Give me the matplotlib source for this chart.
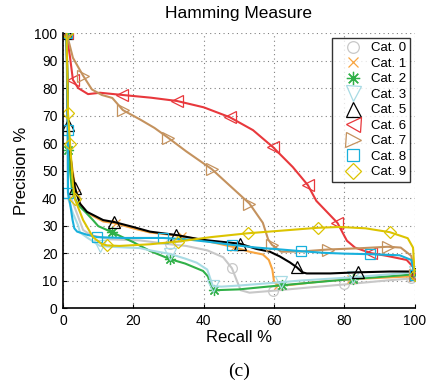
import matplotlib
matplotlib.use("Agg")
import matplotlib.pyplot as plt

plt.rcParams["font.family"] = ["Liberation Sans", "DejaVu Sans"]

# precision / recall curves per category (recall %, precision %)
cat0_recall = [1, 1.2, 1.4, 2.6, 5.7, 8, 13.4, 21.9, 30.4, 35, 41, 45.5, 48, 49.4, 50.5, 53, 59.7, 70, 80, 90, 99, 100]
cat0_precision = [100, 70, 42, 39, 28.4, 26.5, 25, 24.6, 23.2, 22.6, 21, 18.5, 14.5, 10, 6.5, 5.6, 6.3, 7.5, 8.6, 9.8, 10.8, 11]

cat1_recall = [1, 1.5, 3.7, 5, 7, 11.4, 15, 19.9, 24.7, 33.8, 40, 48.5, 53, 56.8, 58.5, 59.5, 60, 61, 64.5, 70, 76, 82, 90, 100]
cat1_precision = [100, 60, 42, 37.5, 34.5, 31.5, 30.8, 29, 27.5, 26.2, 24.6, 22.2, 20.5, 19.5, 17.5, 14, 9.5, 8.3, 8.4, 9.2, 10, 10.5, 11, 11.6]

cat2_recall = [1, 1.4, 2.6, 4.3, 6.3, 8.5, 10, 13.9, 19.9, 24.7, 30.4, 34.7, 39.8, 41.2, 41.8, 42.3, 43, 50, 62.2, 70, 82.4, 90, 100]
cat2_precision = [100, 57.5, 42, 37.5, 35, 32, 29.8, 27.6, 24, 20.8, 17.8, 16.2, 13.5, 11.5, 9, 7.2, 6.5, 6.8, 8.3, 9.2, 10.6, 11.3, 12.3]

cat3_recall = [1, 1.4, 2.8, 4.3, 4.8, 7, 10.5, 15, 21.9, 24.7, 30.4, 34.7, 38, 41, 42, 42.6, 45, 50, 62, 67.3, 82.4, 90, 100]
cat3_precision = [100, 40, 34.5, 30, 27.5, 25.5, 22.6, 22.2, 21.8, 21, 19.7, 18, 16.5, 14, 10.2, 8, 7.8, 8.2, 9.4, 10, 11.2, 12, 13]

cat5_recall = [1, 1.4, 2.5, 3.4, 4.8, 6.8, 11.4, 14.5, 19.9, 24.7, 32, 39.8, 50.3, 55, 58.8, 61.6, 64.5, 66.5, 68, 69.3, 75.9, 83.8, 92.9, 99, 100]
cat5_precision = [100, 66.5, 50, 43.6, 38, 35, 32, 31.3, 29.5, 27.8, 26.6, 24.8, 23.4, 21.5, 20.5, 18.8, 16.6, 14.8, 13, 12.6, 12.6, 13, 13.3, 13.3, 12.5]

cat6_recall = [1, 2, 2.8, 4.3, 7.1, 10.5, 16.8, 25, 32.4, 40, 47.4, 54, 59.7, 65.3, 69.6, 72, 75, 78, 80.7, 83, 87.5, 92, 97.7, 99.5, 100]
cat6_precision = [100, 91, 83, 80, 77.8, 78.3, 77.5, 76.5, 75.3, 73, 69.4, 64.7, 58.5, 51.3, 44.7, 39, 35, 31, 24.5, 22, 20, 19, 17.5, 15, 11.5]

cat7_recall = [1, 2.8, 5.7, 8.2, 11, 14, 17, 22, 26, 29.8, 35, 42.3, 47, 53, 56.8, 58.3, 59.4, 62, 68, 75.3, 85, 92.3, 96, 99, 100]
cat7_precision = [100, 91, 84.5, 79.5, 77.5, 76.4, 72, 68.5, 65.5, 62, 57, 50.5, 45, 38, 31, 25, 23, 20.5, 20.6, 21.3, 21.8, 22.3, 22, 19, 12]

cat8_recall = [1, 1.4, 1.4, 2, 2.7, 3.2, 4, 7, 9.7, 16.8, 28.4, 35, 42, 48, 55, 62, 67.6, 74, 80, 87.2, 95.7, 99, 100]
cat8_precision = [100, 64.7, 42, 38, 32, 29, 27.8, 26.6, 25.8, 25.5, 25.5, 25, 24, 23, 22, 21.3, 20.7, 20.1, 19.8, 19.6, 19.2, 17.5, 12]

cat9_recall = [1, 1.4, 2, 2.8, 3.4, 5.7, 8.5, 11, 12.5, 16, 24.7, 32.7, 42, 52.5, 64.5, 72.4, 78.7, 86, 92.9, 98, 99.5, 100]
cat9_precision = [100, 71, 59.7, 45, 39.5, 32, 25.8, 23.3, 22.8, 22.6, 23.2, 24.2, 25.8, 27.2, 28.4, 29.2, 29.5, 29, 27.6, 25.4, 22, 12]

labels = ["Cat. 0", "Cat. 1", "Cat. 2", "Cat. 3", "Cat. 5", "Cat. 6", "Cat. 7", "Cat. 8", "Cat. 9"]

ASTERISK = (8, 2, 0)

# (recall, precision, colour, marker, marker size, points that carry a marker)
series = [
    (cat0_recall, cat0_precision, "#c8c8c8", "o", 7, [0, 8, 12, 16, 18, 20]),
    (cat1_recall, cat1_precision, "#f8a540", "x", 6, [0, 2, 6, 9, 11, 17, 21, 23]),
    (cat2_recall, cat2_precision, "#30b048", ASTERISK, 8, [0, 1, 7, 10, 16, 18, 20, 22]),
    (cat3_recall, cat3_precision, "#a8dbe4", "v", 9, [0, 6, 10, 15, 18, 20, 22]),
    (cat5_recall, cat5_precision, "#000000", "^", 9, [0, 1, 3, 7, 10, 12, 17, 21, 24]),
    (cat6_recall, cat6_precision, "#e8383c", "<", 9, [0, 2, 6, 8, 10, 12, 14, 17, 20, 24]),
    (cat7_recall, cat7_precision, "#c4925e", ">", 9, [0, 2, 6, 9, 11, 13, 16, 19, 21, 24]),
    (cat8_recall, cat8_precision, "#18b0dc", "s", 7, [0, 1, 2, 8, 10, 13, 16, 19, 22]),
    (cat9_recall, cat9_precision, "#dcc400", "D", 6.5, [0, 1, 2, 4, 8, 11, 13, 15, 18, 21]),
]

fig = plt.figure(figsize=(4.38, 3.89), dpi=100)
ax = fig.add_axes([0.144, 0.208, 0.803, 0.707])

for (rec, prec, color, marker, ms, marks), label in zip(series, labels):
    ax.plot(rec, prec, "-", color=color, lw=1.5)
    ax.plot(rec, prec, ls="none", marker=marker, markevery=marks, ms=ms,
            mfc="none", mec=color, mew=0.9, label=label)

ax.set_xlim(0, 100)
ax.set_ylim(0, 100)
ax.set_xticks(range(0, 101, 20))
ax.set_yticks(range(0, 101, 10))
ax.grid(True, ls=(0, (1, 3)), color="#808080", lw=0.8)
for side in ("top", "right"):
    ax.spines[side].set_visible(False)
ax.spines["left"].set_linewidth(1.2)
ax.spines["bottom"].set_linewidth(1.2)
ax.tick_params(direction="in", length=3, labelsize=10, pad=4)

ax.set_title("Hamming Measure", fontsize=12.5, pad=11)
ax.set_xlabel("Recall %", fontsize=12, labelpad=2)
ax.set_ylabel("Precision %", fontsize=12, labelpad=4)

leg = ax.legend(loc="upper right", bbox_to_anchor=(0.986, 0.982), borderaxespad=0,
                fontsize=9.5, frameon=True, fancybox=False, edgecolor="black",
                handlelength=2.5, handletextpad=0.1, labelspacing=0.25,
                borderpad=0.3, markerscale=1.2)
leg.get_frame().set_linewidth(1.0)
leg.set_zorder(10)

fig.text(0.546, 0.045, "(c)", ha="center", va="center", fontsize=14,
         family=["Liberation Serif", "DejaVu Serif"])

fig.savefig("out.png", dpi=100)
